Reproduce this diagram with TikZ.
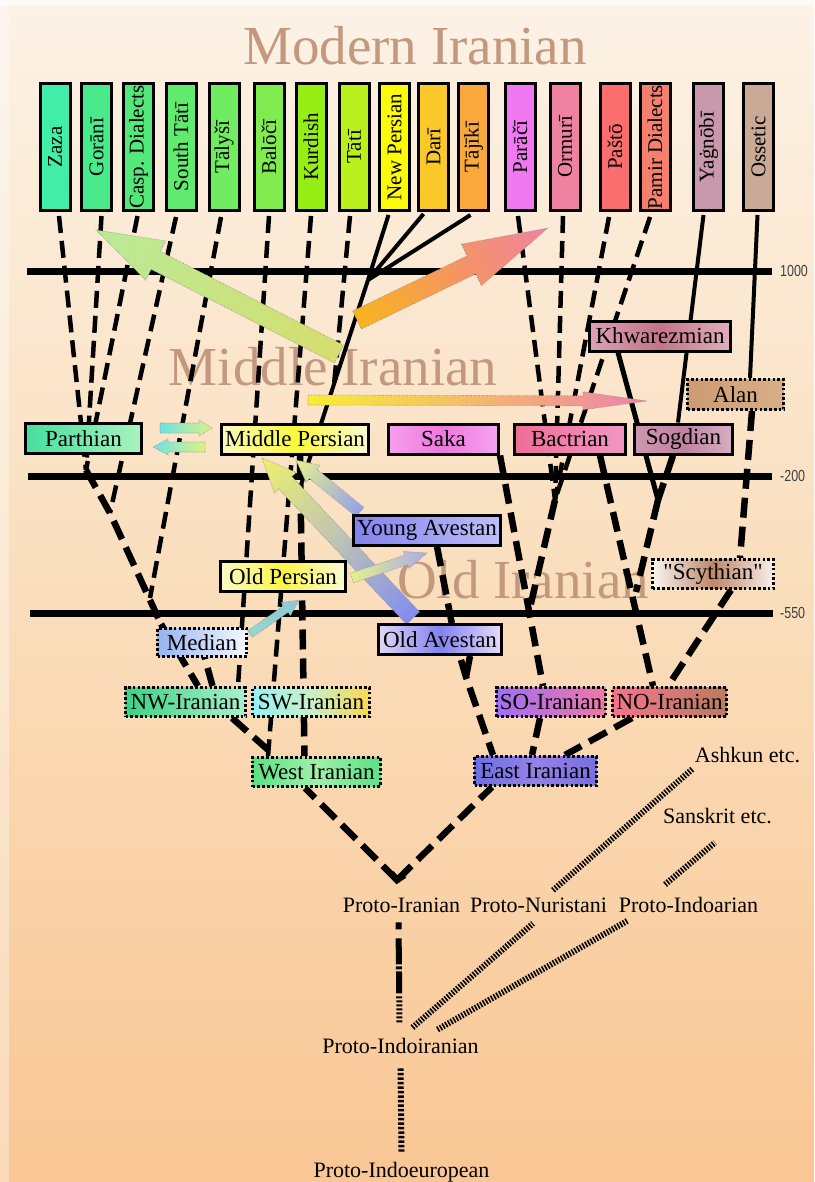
\documentclass[tikz,border=0pt]{standalone}
\usepackage{fontspec}
\setmainfont{Liberation Serif}
\setsansfont{Liberation Sans}
% same face without TeX ligature mapping, for straight quotes
\newfontfamily\plainserif{Liberation Serif}
\usetikzlibrary{calc}

\pgfdeclarelayer{back}
\pgfdeclarelayer{lines}
\pgfdeclarelayer{arrows}
\pgfsetlayers{back,lines,arrows,main}

% background and titles
\definecolor{bgtop}{RGB}{252,242,230}
\definecolor{bgmid}{RGB}{250,222,188}
\definecolor{bgbot}{RGB}{249,198,148}
\definecolor{titlebrown}{RGB}{194,152,126}
% modern languages
\definecolor{czaza}{RGB}{64,238,168}
\definecolor{cgorani}{RGB}{72,234,140}
\definecolor{ccasp}{RGB}{84,232,122}
\definecolor{cstati}{RGB}{96,234,110}
\definecolor{ctalysi}{RGB}{112,236,96}
\definecolor{cbaloci}{RGB}{128,236,80}
\definecolor{ckurdish}{RGB}{150,238,20}
\definecolor{ctati}{RGB}{186,240,30}
\definecolor{cnpers}{RGB}{250,250,10}
\definecolor{cdari}{RGB}{250,200,40}
\definecolor{ctajiki}{RGB}{250,168,60}
\definecolor{cparaci}{RGB}{240,120,240}
\definecolor{cormuri}{RGB}{238,130,160}
\definecolor{cpasto}{RGB}{250,110,110}
\definecolor{cpamir}{RGB}{245,128,110}
\definecolor{cyagnobi}{RGB}{200,152,172}
\definecolor{cossetic}{RGB}{202,170,150}
% arrows
\definecolor{agreenA}{RGB}{214,222,110}
\definecolor{agreenB}{RGB}{186,234,150}
\definecolor{aorA}{RGB}{248,180,30}
\definecolor{aorB}{RGB}{245,150,95}
\definecolor{aorC}{RGB}{240,130,160}
\definecolor{ayel}{RGB}{248,238,50}
\definecolor{apink}{RGB}{238,130,170}
\definecolor{acyan}{RGB}{110,225,230}
\definecolor{aygreen}{RGB}{220,242,130}
\definecolor{alav}{RGB}{150,160,235}
\definecolor{ayelB}{RGB}{228,240,140}
\definecolor{ablue}{RGB}{130,140,240}
\definecolor{agrey}{RGB}{190,196,180}
\definecolor{ayelC}{RGB}{236,240,110}
\definecolor{alavB}{RGB}{170,170,235}
\definecolor{atealA}{RGB}{150,215,205}
\definecolor{atealB}{RGB}{140,200,215}

% shaded block arrow: tail x, tail y, tip x, tip y, shaft half width,
% head half width, head length, shading keys
\newcommand\gradarrow[8]{%
  \pgfmathsetmacro\ArAng{atan2(#2-#4,#3-#1)}%
  \pgfmathsetmacro\ArLen{veclen(#3-#1,#4-#2)}%
  \pgfmathsetmacro\ArNeck{\ArLen-#7}%
  \begin{scope}[transform canvas={shift={(#1,#2)},rotate=\ArAng}]
    \path[arrowskin,#8] (0,-#5) -- (\ArNeck,-#5) -- (\ArNeck,-#6) -- (\ArLen,0)
      -- (\ArNeck,#6) -- (\ArNeck,#5) -- (0,#5) -- cycle;
  \end{scope}}

\tikzset{
  tbox/.style={draw, line width=3pt, rotate=90, minimum width=127pt,
    minimum height=30pt, inner sep=0pt, font=\fontsize{21}{21}\selectfont},
  lbox/.style={draw, line width=3pt, minimum height=30pt, inner sep=0pt,
    font=\fontsize{23}{23}\selectfont},
  dbox/.style={lbox, dash pattern=on 2.6pt off 2.2pt},
  bigtitle/.style={font=\fontsize{55}{55}\selectfont, text=titlebrown,
    anchor=base, inner sep=0pt},
  plabel/.style={font=\fontsize{22}{22}\selectfont, anchor=base, inner sep=0pt},
  yearlabel/.style={font=\sffamily\fontsize{16}{16}\selectfont, xscale=.78,
    anchor=west, text=black!75, inner sep=0pt},
  timeline/.style={line width=7pt},
  dline/.style={line width=4.5pt, dash pattern=on 17pt off 8pt},
  dlinebold/.style={line width=6.5pt, dash pattern=on 20pt off 9pt},
  sline/.style={line width=4pt},
  hatchline/.style={line width=6pt, dash pattern=on 1.6pt off 1.5pt},
  dotline/.style={line width=6pt, dash pattern=on 2.5pt off 2pt},
  arrowskin/.style={draw=black!45, line width=.6pt, densely dotted},
}

\begin{document}
\begin{tikzpicture}[x=1pt,y=-1pt]
\useasboundingbox (0,0) rectangle (814,1182);

\begin{pgfonlayer}{back}
  \fill[top color=bgtop, bottom color=bgbot, middle color=bgmid] (0,0) rectangle (814,1182);
  \fill[white, opacity=.35] (0,0) rectangle (9,1182);
  \fill[white, opacity=.6] (0,0) rectangle (814,5);
  \node[bigtitle] (tmodern) at (415,65) {Modern Iranian};
  \node[bigtitle] (tmiddle) at (333,385) {Middle Iranian};
  \node[bigtitle] (told) at (523,598) {Old Iranian};
  % time scale
  \draw[timeline] (27,271) -- (772,271);
  \draw[timeline] (28,476) -- (772,476);
  \draw[timeline] (30,613) -- (773,613);
  \node[yearlabel] (y1000) at (780,271) {1000};
  \node[yearlabel] (y200) at (780,476) {-200};
  \node[yearlabel] (y550) at (780,613) {-550};
\end{pgfonlayer}

% modern languages
\node[tbox, fill=czaza] (zaza) at (55,147) {Zaza};
\node[tbox, fill=cgorani] (gorani) at (96.5,147) {Gorānī};
\node[tbox, fill=ccasp] (casp) at (138.5,147) {Casp. Dialects};
\node[tbox, fill=cstati] (stati) at (181,147) {South Tātī};
\node[tbox, fill=ctalysi] (talysi) at (224,147) {Tālyšī};
\node[tbox, fill=cbaloci] (baloci) at (269,147) {Balōčī};
\node[tbox, fill=ckurdish] (kurdish) at (311,147) {Kurdish};
\node[tbox, fill=ctati] (tati) at (354,147) {Tātī};
\node[tbox, fill=cnpers] (npers) at (394.5,147) {New Persian};
\node[tbox, fill=cdari] (dari) at (433.5,147) {Darī};
\node[tbox, fill=ctajiki] (tajiki) at (473.5,147) {Tājīkī};
\node[tbox, fill=cparaci] (paraci) at (520,147) {Parāčī};
\node[tbox, fill=cormuri] (ormuri) at (565,147) {Ormurī};
\node[tbox, fill=cpasto] (pasto) at (615,147) {Paštō};
\node[tbox, fill=cpamir] (pamir) at (655,147) {Pamir Dialects};
\node[tbox, fill=cyagnobi] (yagnobi) at (708.5,147) {Yaġnōbī};
\node[tbox, fill=cossetic] (ossetic) at (758.5,147) {Ossetic};

% middle languages
\node[lbox, minimum width=116pt, left color={rgb,255:red,70;green,222;blue,160},
  right color={rgb,255:red,170;green,242;blue,190}] (parthian) at (83.5,438.5) {Parthian};
\node[lbox, minimum width=147pt, left color={rgb,255:red,250;green,250;blue,190},
  right color={rgb,255:red,250;green,250;blue,210}, middle color={rgb,255:red,250;green,248;blue,60}]
  (mp) at (295,439) {Middle Persian};
\node[lbox, minimum width=110pt, left color={rgb,255:red,245;green,160;blue,235},
  right color={rgb,255:red,245;green,165;blue,240}, middle color={rgb,255:red,238;green,120;blue,222}]
  (saka) at (443.5,439) {Saka};
\node[lbox, minimum width=111pt, left color={rgb,255:red,236;green,110;blue,150},
  right color={rgb,255:red,242;green,150;blue,195}] (bact) at (570,439) {Bactrian};
\node[lbox, minimum width=98pt, left color={rgb,255:red,205;green,150;blue,175},
  right color={rgb,255:red,215;green,175;blue,195}, middle color={rgb,255:red,190;green,130;blue,160}]
  (sogd) at (683.5,439) {Sogdian};
\node[lbox, minimum width=141pt, left color={rgb,255:red,220;green,160;blue,180},
  right color={rgb,255:red,225;green,175;blue,190}, middle color={rgb,255:red,195;green,115;blue,140}]
  (khw) at (660,336) {Khwarezmian};
\node[dbox, minimum width=96pt, left color={rgb,255:red,205;green,155;blue,115},
  right color={rgb,255:red,215;green,175;blue,135}] (alan) at (735.5,394.5) {Alan};

% old languages
\node[lbox, minimum width=147pt, left color={rgb,255:red,130;green,130;blue,240},
  right color={rgb,255:red,190;green,190;blue,250}] (ya) at (427,530) {Young Avestan};
\node[lbox, minimum width=125pt, left color={rgb,255:red,250;green,250;blue,200},
  right color={rgb,255:red,250;green,250;blue,215}, middle color={rgb,255:red,250;green,245;blue,70}]
  (op) at (283,576.5) {Old Persian};
\node[dbox, minimum width=121pt, minimum height=29pt, font=\plainserif\fontsize{23}{23}\selectfont,
  left color={rgb,255:red,250;green,246;blue,240},
  right color={rgb,255:red,248;green,240;blue,235}, middle color={rgb,255:red,190;green,135;blue,105}]
  (scy) at (713,574) {"Scythian"};
\node[dbox, minimum width=89pt, minimum height=28pt, left color={rgb,255:red,150;green,180;blue,240},
  right color={rgb,255:red,245;green,248;blue,255}] (median) at (202,642.5) {Median};
\node[lbox, minimum width=123pt, left color={rgb,255:red,225;green,215;blue,245},
  right color={rgb,255:red,230;green,220;blue,250}, middle color={rgb,255:red,130;green,130;blue,240}]
  (oa) at (440,639.5) {Old Avestan};

% branch nodes
\node[dbox, minimum width=120pt, minimum height=29pt, left color={rgb,255:red,60;green,210;blue,130},
  right color={rgb,255:red,170;green,240;blue,205}] (nw) at (185.5,702) {NW-Iranian};
\node[dbox, minimum width=117pt, minimum height=29pt, left color={rgb,255:red,150;green,240;blue,245},
  right color={rgb,255:red,250;green,215;blue,80}, middle color={rgb,255:red,200;green,240;blue,200}]
  (sw) at (311,702) {SW-Iranian};
\node[dbox, minimum width=109pt, minimum height=29pt, left color={rgb,255:red,160;green,110;blue,245},
  right color={rgb,255:red,240;green,120;blue,165}] (so) at (551,702) {SO-Iranian};
\node[dbox, minimum width=114pt, minimum height=29pt, left color={rgb,255:red,245;green,115;blue,140},
  right color={rgb,255:red,185;green,125;blue,95}] (no) at (669.5,702) {NO-Iranian};
\node[dbox, minimum width=128pt, minimum height=29pt, left color={rgb,255:red,90;green,225;blue,130},
  right color={rgb,255:red,90;green,225;blue,130}, middle color={rgb,255:red,160;green,240;blue,170}]
  (wi) at (316.5,772) {West Iranian};
\node[dbox, minimum width=122pt, minimum height=29pt, left color={rgb,255:red,110;green,110;blue,225},
  right color={rgb,255:red,120;green,110;blue,220}, middle color={rgb,255:red,150;green,130;blue,230}]
  (ei) at (535.5,771) {East Iranian};

% proto-languages
\node[plabel] (pi) at (401.5,912) {Proto-Iranian};
\node[plabel] (pn) at (538.5,912) {Proto-Nuristani};
\node[plabel] (pia) at (688.5,912) {Proto-Indoarian};
\node[plabel] (ashkun) at (747.5,762) {Ashkun etc.};
\node[plabel] (sanskrit) at (717.5,823) {Sanskrit etc.};
\node[plabel] (pii) at (400.5,1053) {Proto-Indoiranian};
\node[plabel] (pie) at (401.5,1177) {Proto-Indoeuropean};

% junctions of the branches
\coordinate (j1) at (86,470);
\coordinate (j2) at (110,513);
\coordinate (t1) at (150,598);
\coordinate (m1) at (161,624);
\coordinate (m2) at (200,640);
\coordinate (tj) at (334,385);
\coordinate (pj) at (368,280);
\coordinate (pe) at (301,485);
\coordinate (v1) at (555,500);
\coordinate (s1) at (529,612);
\coordinate (v2) at (658,500);
\coordinate (n1) at (636,592);
\coordinate (a1) at (455,640);
\coordinate (a2) at (466,677);
\coordinate (pv) at (397,880);

\begin{pgfonlayer}{lines}
  % north-western group
  \draw[dline] ($(zaza.west)+(4,4)$) -- (j1);
  \draw[dline] ($(gorani.west)+(5,4)$) -- (j1);
  \draw[dline] ($(casp.west)+(-1,4)$) -- (j1);
  \draw[dlinebold] (j1) -- (j2) -- (m1);
  \draw[dline] ($(stati.west)+(-5,5)$) -- (j2);
  \draw[dline] ($(talysi.west)+(-3,5)$) -- (t1);
  \draw[dlinebold] (m1) -- ($(nw.north)+(12.5,0)$);
  \draw[dlinebold] (m2) -- ($(nw.north)+(27,0)$);
  \draw[dline] ($(baloci.west)+(0,4)$) -- ($(nw.north)+(52.5,0)$);
  \draw[dline] ($(kurdish.west)+(0,4)$) -- ($(wi.north)+(-48.5,0)$);
  \draw[dline] ($(tati.west)+(-4,4)$) -- (tj);
  % persian group
  \draw[sline] ($(npers.west)+(-6,3)$) -- (pj);
  \draw[sline] ($(dari.west)+(-10,2)$) -- (pj);
  \draw[sline] ($(tajiki.west)+(-3,3)$) -- (pj);
  \draw[sline] (pj) -- (pe);
  \draw[dlinebold] ($(mp.south)+(5,0)$) -- ($(wi.north)+(-12,0)$);
  % eastern group
  \draw[dline] ($(paraci.west)+(-2,4)$) -- (v1);
  \draw[dline] ($(ormuri.west)+(-2,4)$) -- (v1);
  \draw[dline] ($(pasto.west)+(-6,5)$) -- (v1);
  \draw[dline] ($(pamir.west)+(-5,5)$) -- (v1);
  \draw[dlinebold] (v1) -- (s1);
  \draw[dlinebold] (saka.south east) -- ($(so.north)+(-8,0)$);
  \draw[dlinebold] ($(bact.south)+(30,0)$) -- ($(no.north)+(-16.5,0)$);
  \draw[sline] ($(yagnobi.west)+(-5,3)$) -- ($(sogd.north)+(-5.5,0)$);
  \draw[sline] ($(ossetic.west)+(-1,3)$) -- ($(alan.north)+(14.5,0)$);
  \draw[sline, line width=5pt] ($(khw.south)+(-42,0)$) -- (v2);
  \draw[dlinebold] ($(sogd.south)+(-10.5,0)$) -- (v2);
  \draw[dlinebold] (v2) -- (n1);
  \draw[dlinebold] ($(alan.south)+(16.5,0)$) -- ($(scy.north)+(27,0)$);
  \draw[dlinebold] ($(scy.south)+(18,0)$) -- ($(no.north)+(-1.5,0)$);
  % avestan
  \draw[dlinebold] ($(ya.south)+(10,0)$) -- (a1) -- (a2) -- ($(ei.north)+(-42.5,0)$);
  \draw[dlinebold] ($(oa.south)+(30,0)$) -- (a2);
  % branches
  \draw[dlinebold] ($(so.south)+(-11,0)$) -- ($(ei.north)+(-3.5,0)$);
  \draw[dlinebold] ($(no.south)+(-37.5,0)$) -- ($(ei.north)+(29.5,0)$);
  \draw[dlinebold] ($(nw.south)+(46.5,0)$) -- ($(wi.north)+(-41.5,0)$);
  \draw[dlinebold] (pv) -- ($(wi.south)+(-11.5,0)$);
  \draw[dlinebold] (pv) -- ($(ei.south)+(-43.5,0)$);
  \draw[line width=6.5pt, line join=miter] ($(pv)!9pt!(wi.south)$) -- (pv) -- ($(pv)!9pt!(ei.south)$);
  % proto-languages
  \draw[line width=6pt, dash pattern=on 7pt off 9pt on 26pt off 2pt on 3pt off 2pt on 22pt off 3pt
    on 2pt off 2pt on 2pt off 2pt on 2pt off 2pt on 2pt off 2pt on 2pt off 2pt on 2pt off 2pt on 2pt off 40pt]
    ($(pi.south)+(-3,10)$) -- ($(pii.north)+(-1,-13)$);
  \draw[dotline] ($(pii.south)+(0,15)$) -- ($(pie.north)+(0,-10)$);
  \draw[hatchline] ($(pii.north)+(12,-10)$) -- ($(pn.south)+(-5.5,11)$);
  \draw[hatchline] ($(pii.north)+(37,-8)$) -- ($(pia.south)+(-60.5,8)$);
  \draw[hatchline] ($(pn.north)+(14.5,-7)$) -- ($(ashkun.south)+(-54.5,6)$);
  \draw[hatchline] ($(pia.north)+(-23.5,-12)$) -- ($(sanskrit.south)+(-2.5,19)$);
\end{pgfonlayer}

\begin{pgfonlayer}{arrows}
  \gradarrow{339}{354}{96}{230}{10}{22}{67}{left color=agreenA, right color=agreenB}
  \gradarrow{357}{320}{548}{228}{10}{23}{85}{left color=aorA, right color=aorC, middle color=aorB}
  \gradarrow{308}{400}{647}{401}{5}{9}{64}{left color=ayel, right color=apink}
  \gradarrow{160}{428}{212}{428}{5}{8}{13}{left color=acyan, right color=aygreen}
  \gradarrow{205}{447}{153}{447}{5}{8}{15}{left color=aygreen, right color=acyan}
  \gradarrow{360}{512}{296}{460}{6}{11}{22}{left color=alav, right color=ayelB}
  \gradarrow{413}{618}{262}{458}{9}{15}{34}{left color=ablue, right color=ayelC, middle color=agrey}
  \gradarrow{352}{578}{427}{553}{5}{9}{22}{left color=ayelB, right color=alavB}
  \gradarrow{250}{634}{299}{600}{4}{8}{16}{left color=atealA, right color=atealB}
\end{pgfonlayer}
\end{tikzpicture}
\end{document}
